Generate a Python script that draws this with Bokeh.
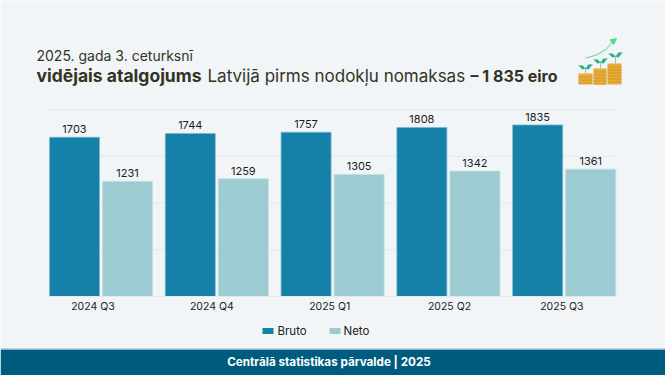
from bokeh.plotting import figure
from bokeh.models import (Range1d, FixedTicker, Label, BoxAnnotation, PolyAnnotation, Arrow,
                          NormalHead, ColumnDataSource)
from bokeh.core.properties import value
from bokeh.embed import file_html
from bokeh.resources import INLINE

quarters = ["2024 Q3", "2024 Q4", "2025 Q1", "2025 Q2", "2025 Q3"]
series_names = ["Bruto", "Neto"]
bruto = [1703, 1744, 1757, 1808, 1835]
neto = [1231, 1259, 1305, 1342, 1361]
label_positions = [-0.07, 0.957, 1.975, 3.01, 3.98]
grid_values = [500, 1000, 1500, 2000]

BG = "#f1f5f7"; BRUTO = "#1580a8"; NETO = "#9ccbd1"; BAND = "#005c7f"
FONT = "Inter"; INK = "#33331f"
W = 665; H = 375
XL, XR = -0.447, 4.447   # plotted extent of the five groups

p = figure(width=W, height=H, output_backend="svg", toolbar_location=None,
           x_range=Range1d(-0.868, 4.875), y_range=Range1d(-844.9, 3165.8),
           min_border=0, border_fill_color=BG, background_fill_color=BG, outline_line_color=None)

p.yaxis.visible = False
p.xgrid.visible = False
p.ygrid.visible = False
p.segment(x0=[XL] * 4, x1=[XR] * 4, y0=grid_values, y1=grid_values, line_color="#e3e8eb", line_width=1)

ax = p.xaxis[0]
ax.fixed_location = 0
ax.bounds = (XL, XR)
ax.ticker = FixedTicker(ticks=label_positions)
ax.major_label_overrides = dict(zip(label_positions, quarters))
ax.major_tick_line_color = None
ax.minor_tick_line_color = None
ax.axis_line_color = "#e3e8eb"
ax.major_label_text_font = FONT
ax.major_label_text_font_size = "10.5px"
ax.major_label_text_color = "#222222"
ax.major_label_standoff = -3

idx = list(range(len(quarters)))
src = ColumnDataSource(dict(x=idx, bruto=bruto, neto=neto,
                            bl=[str(v) for v in bruto], nl=[str(v) for v in neto],
                            xb=[i - 0.229 for i in idx], xn=[i + 0.229 for i in idx]))
p.vbar(x="xb", top="bruto", width=0.432, source=src, fill_color=BRUTO, line_color="#7fb8cc", line_width=0.8)
p.vbar(x="xn", top="neto", width=0.432, source=src, fill_color=NETO, line_color="#c0dfe3", line_width=0.8)
for xc, tc in (("xb", "bl"), ("xn", "nl")):
    yc = "bruto" if tc == "bl" else "neto"
    p.text(x=xc, y=yc, text=tc, source=src, text_font=value(FONT), text_font_size="11px",
           text_color="#1c1c1c", text_align="center", text_baseline="bottom", y_offset=-4)

def lab(t, x, y, size, style="normal", color=INK, align="left"):
    p.add_layout(Label(x=x, y=H - y, x_units="screen", y_units="screen", text=t, text_font=FONT,
                       text_font_size=size, text_font_style=style, text_color=color,
                       text_align=align, text_baseline="middle", level="overlay"))

def box(l, r, t, b, color):
    p.add_layout(BoxAnnotation(left=l, right=r, top=H - t, bottom=H - b, left_units="screen", right_units="screen",
                               top_units="screen", bottom_units="screen", fill_color=color, fill_alpha=1,
                               line_color=None, level="overlay"))

def poly(xs, ys, color):
    p.add_layout(PolyAnnotation(xs=list(xs), ys=[H - y for y in ys], xs_units="screen", ys_units="screen",
                                fill_color=color, fill_alpha=1, line_color=color, line_width=0.5, level="overlay"))

box(0, W, 349, H, BAND)
box(0, W, 348, 349, "#8fb6c6")
lab("Centrālā statistikas pārvalde | 2025", 328.5, 361, "11.7px", "bold", "#ffffff", "center")

lab("2025. gada 3. ceturksnī", 36, 55, "14px")
lab("vidējais atalgojums", 36, 75, "17.5px", "bold")
lab("Latvijā pirms nodokļu nomaksas", 207, 75, "17px")
lab("– 1 835 eiro", 470, 75, "16px", "bold")

box(262, 273, 327.5, 333.5, BRUTO)
lab(series_names[0], 277, 330, "11.5px", color="#222222")
box(329, 340, 327.5, 333.5, NETO)
lab(series_names[1], 343, 330, "11.5px", color="#222222")

# decorative icon
for l, r, t in ((578, 592, 73), (593, 606, 68), (607, 621, 63)):
    box(l, r, t, 84, "#e8ad35")
    yy = t + 3
    while yy < 84:
        box(l, r, yy, yy + 1, "#d2962a")
        yy += 3
for sx, top, bot in ((585, 67, 73), (600, 61, 68), (615, 55, 63)):
    box(sx - 0.5, sx + 0.5, top, bot, "#7fd3b0")
    poly([sx, sx - 3, sx - 7, sx - 3], [top + 1, top + 2, top - 2, top - 2], "#2fae86")
    poly([sx, sx + 3, sx + 7, sx + 3], [top + 1, top + 2, top - 3, top - 3], "#2fae86")
poly([585, 596, 606, 613, 613, 606, 596, 585], [57.2, 54, 48, 40, 41, 49, 55, 58], "#62d88a")
p.add_layout(Arrow(end=NormalHead(size=6, line_color="#62d88a", fill_color="#62d88a"),
                   x_start=611, y_start=H - 42, x_end=616, y_end=H - 38,
                   start_units="screen", end_units="screen", line_color="#62d88a", line_width=1))

open("out.html", "w").write(file_html(p, INLINE))
